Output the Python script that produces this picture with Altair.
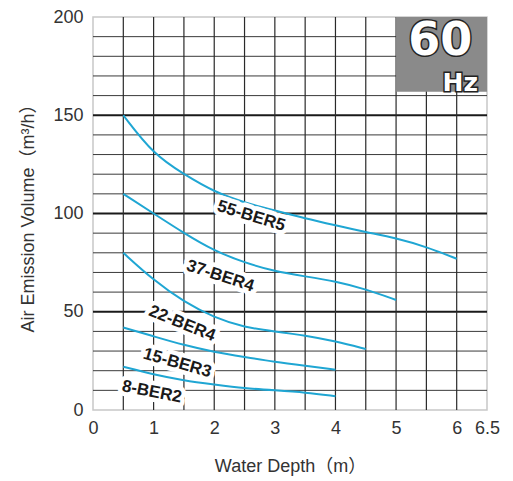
import altair as alt
import pandas as pd

# ---- data ----
series_names = ["55-BER5", "37-BER4", "22-BER4", "15-BER3", "8-BER2"]
depth_55 = [0.5, 1, 1.5, 2, 2.5, 3, 3.5, 4, 4.5, 5, 5.5, 6]
air_55 = [150, 130, 120, 111, 105.5, 101.5, 97.5, 94, 90.5, 87.5, 83, 77]
depth_37 = [0.5, 1, 1.5, 2, 2.5, 3, 3.5, 4, 4.5, 5]
air_37 = [110, 100, 90, 81, 75, 70.5, 68, 65.5, 61.5, 56]
depth_22 = [0.5, 1, 1.5, 2, 2.5, 3, 3.5, 4, 4.5]
air_22 = [80, 66, 55, 47, 42, 40, 38, 35, 31]
depth_15 = [0.5, 1, 1.5, 2, 2.5, 3, 3.5, 4]
air_15 = [42, 37.5, 33, 29.5, 27, 24.5, 22.5, 20.5]
depth_8 = [0.5, 1, 1.5, 2, 2.5, 3, 3.5, 4]
air_8 = [22, 18, 15, 13, 11, 10, 9, 7]

x_ticks = [0, 1, 2, 3, 4, 5, 6, 6.5]
y_ticks = [0, 50, 100, 150, 200]
v_grid = [0.5, 1, 1.5, 2, 2.5, 3, 3.5, 4, 4.5, 5, 5.5, 6]
h_grid_minor = [10, 20, 30, 40, 60, 70, 80, 90, 110, 120, 130, 140, 160, 170, 180, 190]
h_grid_major = [50, 100, 150]

label_x = [2.61, 2.10, 1.47, 1.39, 0.97]
label_y = [98.7, 68.2, 44.0, 23.9, 9.2]
label_angle = [17, 18, 22, 16, 11]

badge_x = [5.0]
badge_x2 = [6.5]
badge_y = [162]
badge_y2 = [200]

# ---- tables ----
rows = []
for name, xs, ys in zip(series_names,
                        [depth_55, depth_37, depth_22, depth_15, depth_8],
                        [air_55, air_37, air_22, air_15, air_8]):
    for xv, yv in zip(xs, ys):
        rows.append({"series": name, "depth": xv, "air": yv})
curves = pd.DataFrame(rows)
labels = pd.DataFrame({"name": series_names, "x": label_x, "y": label_y, "angle": label_angle})

FONT = "Liberation Sans, Noto Sans CJK JP"
TXT = "#333333"
CYAN = "#1fa6d3"

xscale = alt.Scale(domain=[0, 6.5], nice=False, zero=False)
yscale = alt.Scale(domain=[0, 200], nice=False)

xaxis = alt.Axis(values=x_ticks, grid=False, ticks=False, domain=False, format="~g",
                 labelFont=FONT, labelFontSize=18, labelColor=TXT, labelPadding=9,
                 labelFlush=False, labelOverlap=False,
                 title="Water Depth（m）", titleFont=FONT, titleFontSize=18,
                 titleFontWeight="normal", titleColor=TXT,
                 titleX=197, titleY=56, titleBaseline="middle", titleAnchor="middle")
yaxis = alt.Axis(values=y_ticks, grid=False, ticks=False, domain=False,
                 labelFont=FONT, labelFontSize=18, labelColor=TXT, labelPadding=10,
                 labelFlush=False,
                 title="Air Emission Volume（m³/h）", titleFont=FONT, titleFontSize=18,
                 titleFontWeight="normal", titleColor=TXT, titleAngle=-90,
                 titleX=-65, titleY=196.5, titleBaseline="middle", titleAlign="center")

base_axes = alt.Chart(curves).mark_line(opacity=0).encode(
    x=alt.X("depth:Q", scale=xscale, axis=xaxis),
    y=alt.Y("air:Q", scale=yscale, axis=yaxis),
    detail="series:N",
)

vg = alt.Chart(pd.DataFrame({"v": v_grid})).mark_rule(color="#2a2a2a", strokeWidth=1.2).encode(
    x=alt.X("v:Q", scale=xscale))
hg_min = alt.Chart(pd.DataFrame({"h": h_grid_minor})).mark_rule(color="#3a3a3a", strokeWidth=1).encode(
    y=alt.Y("h:Q", scale=yscale))
hg_maj = alt.Chart(pd.DataFrame({"h": h_grid_major})).mark_rule(color="#1a1a1a", strokeWidth=2).encode(
    y=alt.Y("h:Q", scale=yscale))

badge = alt.Chart(pd.DataFrame({"x": badge_x, "x2": badge_x2, "y": badge_y, "y2": badge_y2})).mark_rect(
    color="#8a8a8a").encode(
    x=alt.X("x:Q", scale=xscale), x2="x2:Q",
    y=alt.Y("y:Q", scale=yscale), y2="y2:Q")

lines = alt.Chart(curves).mark_line(color=CYAN, strokeWidth=2, interpolate="basis").encode(
    x=alt.X("depth:Q", scale=xscale),
    y=alt.Y("air:Q", scale=yscale),
    detail="series:N",
)

halo = alt.Chart(labels).mark_text(font=FONT, fontSize=17, fontWeight="bold",
                                   stroke="white", strokeWidth=9, strokeJoin="round",
                                   color="white", align="center", baseline="middle").encode(
    x=alt.X("x:Q", scale=xscale), y=alt.Y("y:Q", scale=yscale),
    text="name:N", angle=alt.Angle("angle:Q", scale=None))
ltext = alt.Chart(labels).mark_text(font=FONT, fontSize=17, fontWeight="bold",
                                    color="#1a1a1a", align="center", baseline="middle").encode(
    x=alt.X("x:Q", scale=xscale), y=alt.Y("y:Q", scale=yscale),
    text="name:N", angle=alt.Angle("angle:Q", scale=None))

badge_text = pd.DataFrame({"t": ["60", "Hz"], "x": [5.73, 6.06], "y": [187.8, 166.4],
                           "s": [46, 25]})
b_halo = alt.Chart(badge_text).mark_text(font="DejaVu Sans", fontWeight="bold", color="#222222",
                                         stroke="#222222", strokeWidth=3,
                                         align="center", baseline="middle").encode(
    x=alt.X("x:Q", scale=xscale), y=alt.Y("y:Q", scale=yscale), text="t:N",
    size=alt.Size("s:Q", scale=None, legend=None))
b_text = alt.Chart(badge_text).mark_text(font="DejaVu Sans", fontWeight="bold", color="white",
                                         align="center", baseline="middle").encode(
    x=alt.X("x:Q", scale=xscale), y=alt.Y("y:Q", scale=yscale), text="t:N",
    size=alt.Size("s:Q", scale=None, legend=None))

chart = alt.layer(base_axes, hg_min, hg_maj, vg, badge, lines, halo, ltext, b_halo, b_text).properties(
    width=394, height=393,
    autosize=alt.AutoSizeParams(type="none"),
    padding={"left": 93, "top": 17, "right": 26, "bottom": 71},
    background="white",
).configure_view(stroke="#c8c8c8", strokeWidth=1.5)

chart.save("out.html", embed_options={"renderer": "svg", "actions": False})
